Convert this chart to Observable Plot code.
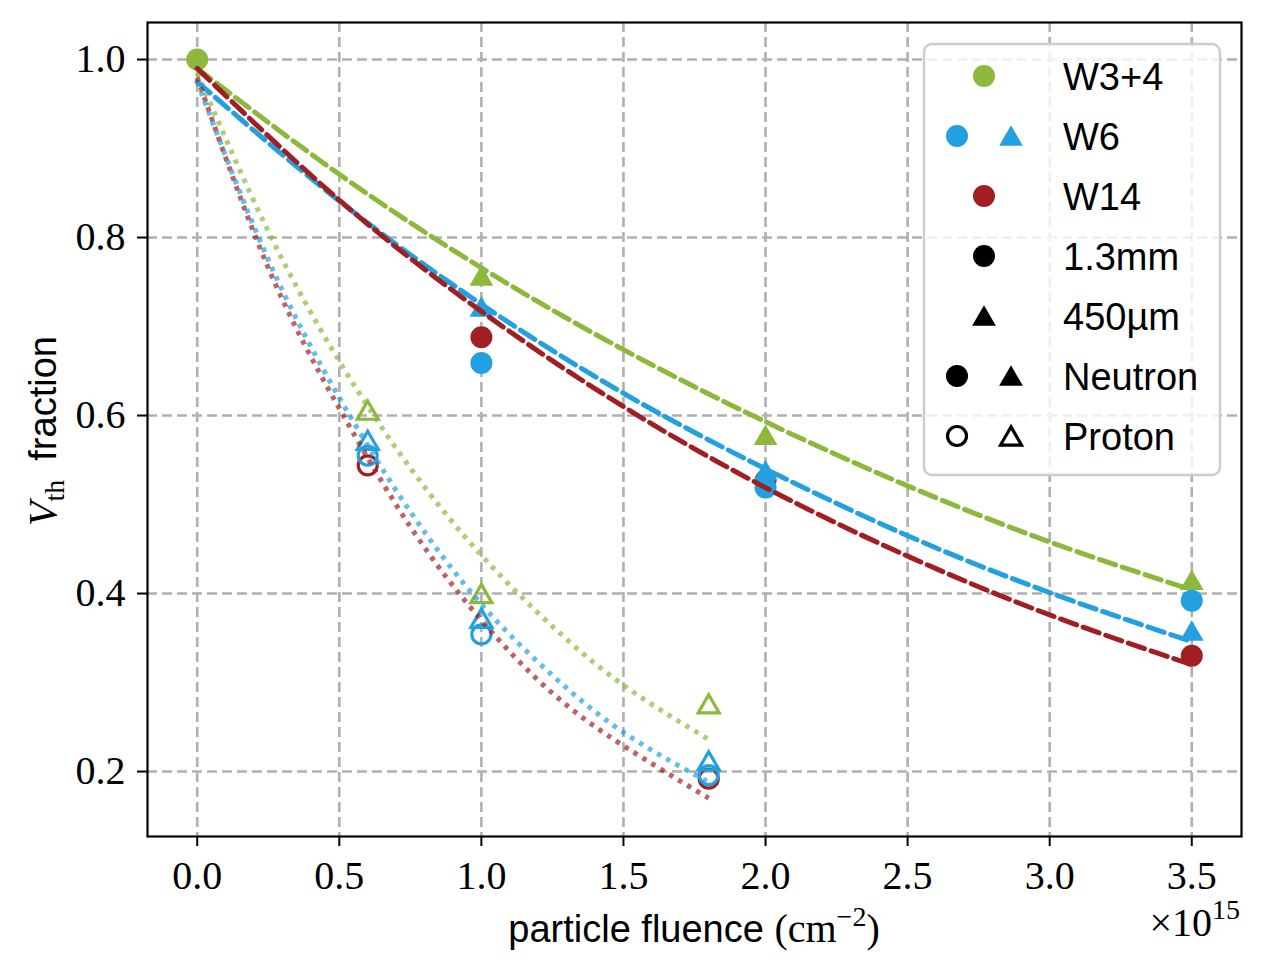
<!DOCTYPE html>
<html><head><meta charset="utf-8">
<script src="https://cdn.jsdelivr.net/npm/d3@7"></script>
<script src="https://cdn.jsdelivr.net/npm/@observablehq/plot@0.6"></script>
<style>
body{margin:0;background:#fff}
#chart{position:relative;width:1263px;height:977px}
svg [aria-label*="axis"] line, svg [aria-label*="axis"] path{stroke-width:2px}
</style>
</head><body><div id="chart"></div>
<script>
// ---- data ----
const xTicks = [0, 0.5, 1.0, 1.5, 2.0, 2.5, 3.0, 3.5];
const yTicks = [0.2, 0.4, 0.6, 0.8, 1.0];
const wafers = ["W3+4", "W6", "W14"];
const colors = ["#8cb93c", "#22a0e0", "#a11f23"];

// unirradiated reference point
const refFluence = [0];
const refValue = [1.0];

// neutron (filled markers)
const neutronFluence = [1.0, 2.0, 3.5];
const w34NeutronTri = [0.757, 0.578, 0.415];
const w6NeutronCirc = [0.659, 0.519, 0.392];
const w6NeutronTri = [0.722, 0.538, 0.358];
const w14NeutronCirc = [0.688, 0.527, 0.330];

// proton (open markers)
const protonFluence = [0.6, 1.0, 1.8];
const w34ProtonTri = [0.606, 0.400, 0.276];
const w6ProtonTri = [0.572, 0.372, 0.212];
const w6ProtonCirc = [0.555, 0.354, 0.196];
const w14ProtonFluence = [0.6, 1.8];
const w14ProtonCirc = [0.544, 0.192];

// fitted curves
const neutronFitX = [0, 0.5, 1.0, 1.5, 2.0, 2.5, 3.0, 3.5];
const w34NeutronFit = [0.990, 0.871, 0.766, 0.674, 0.593, 0.521, 0.458, 0.404];
const w6NeutronFit = [0.975, 0.841, 0.725, 0.625, 0.540, 0.465, 0.401, 0.346];
const w14NeutronFit = [0.990, 0.842, 0.717, 0.610, 0.519, 0.442, 0.376, 0.320];

const protonFitX = [0, 0.25, 0.5, 0.75, 1.0, 1.25, 1.5, 1.8];
const w34ProtonFit = [0.985, 0.807, 0.661, 0.541, 0.443, 0.363, 0.297, 0.236];
const w6ProtonFit = [0.975, 0.775, 0.620, 0.492, 0.388, 0.308, 0.244, 0.188];
const w14ProtonFit = [0.980, 0.766, 0.608, 0.475, 0.370, 0.288, 0.229, 0.170];

// ---- helpers ----
const pts = (xs, ys) => xs.map((x, i) => ({x, y: ys[i]}));
const circleFilled = (xs, ys, c) => Plot.dot(pts(xs, ys), {x: "x", y: "y", r: 11, fill: c, stroke: "none"});
const triFilled = (xs, ys, c) => Plot.dot(pts(xs, ys), {x: "x", y: "y", symbol: "triangle", r: 8.8, fill: c, stroke: "none", dy: 3});
const circleOpen = (xs, ys, c) => Plot.dot(pts(xs, ys), {x: "x", y: "y", r: 9.5, fill: "none", stroke: c, strokeWidth: 3.2});
const triOpen = (xs, ys, c) => Plot.dot(pts(xs, ys), {x: "x", y: "y", symbol: "triangle", r: 7.8, fill: "none", stroke: c, strokeWidth: 3.2, dy: 3});
const dashed = (xs, ys, c) => Plot.line(pts(xs, ys), {x: "x", y: "y", stroke: c, strokeWidth: 5, strokeDasharray: "17,7", curve: "natural"});
const dotted = (xs, ys, c) => Plot.line(pts(xs, ys), {x: "x", y: "y", stroke: c, strokeWidth: 5, strokeOpacity: 0.7, strokeDasharray: "4.5,6", curve: "natural", strokeLinecap: "butt"});

const grid = {stroke: "#b0b0b0", strokeWidth: 2.6, strokeDasharray: "10,5"};

const chart = Plot.plot({
  width: 1263,
  height: 977,
  marginLeft: 147,
  marginRight: 22,
  marginTop: 22,
  marginBottom: 141,
  style: {fontFamily: "'Liberation Serif', serif", fontSize: "40px", background: "white", color: "black", overflow: "visible"},
  x: {domain: [-0.175, 3.675], ticks: xTicks, tickFormat: d3.format(".1f"), tickSize: 10, tickPadding: 14, label: null},
  y: {domain: [0.127, 1.0416], ticks: yTicks, tickFormat: d3.format(".1f"), tickSize: 10, tickPadding: 12, label: null},
  marks: [
    Plot.ruleX(xTicks, grid),
    Plot.ruleY(yTicks, grid),
    // W3+4
    circleFilled(refFluence, refValue, colors[0]),
    triFilled(neutronFluence, w34NeutronTri, colors[0]),
    triOpen(protonFluence, w34ProtonTri, colors[0]),
    dashed(neutronFitX, w34NeutronFit, colors[0]),
    dotted(protonFitX, w34ProtonFit, colors[0]),
    // W14
    circleFilled(neutronFluence, w14NeutronCirc, colors[2]),
    circleOpen(w14ProtonFluence, w14ProtonCirc, colors[2]),
    // W6
    circleFilled(neutronFluence, w6NeutronCirc, colors[1]),
    triFilled(neutronFluence, w6NeutronTri, colors[1]),
    circleOpen(protonFluence, w6ProtonCirc, colors[1]),
    triOpen(protonFluence, w6ProtonTri, colors[1]),
    dashed(neutronFitX, w6NeutronFit, colors[1]),
    dotted(protonFitX, w6ProtonFit, colors[1]),
    dashed(neutronFitX, w14NeutronFit, colors[2]),
    dotted(protonFitX, w14ProtonFit, colors[2]),
    Plot.frame({stroke: "black", strokeWidth: 2.2})
  ]
});
document.getElementById("chart").appendChild(chart);

// ---- labels and legend ----
const svg = d3.select(chart);
const serif = "'Liberation Serif', serif";
const sans = "'Liberation Sans', sans-serif";

// y label
const yl = svg.append("text")
  .attr("transform", "translate(56,431) rotate(-90)")
  .attr("text-anchor", "middle")
  .attr("font-size", 38).attr("fill", "black");
yl.append("tspan").attr("font-family", serif).attr("font-style", "italic").attr("font-size", 40).text("V");
yl.append("tspan").attr("font-family", serif).attr("font-size", 28).attr("dy", 8).text("th");
yl.append("tspan").attr("font-family", sans).attr("dy", -8).text("\u2002fraction");

// x label
const xl = svg.append("text")
  .attr("x", 694).attr("y", 942)
  .attr("text-anchor", "middle").attr("fill", "black").attr("font-size", 38);
xl.append("tspan").attr("font-family", sans).text("particle fluence ");
xl.append("tspan").attr("font-family", serif).attr("font-size", 40).text("(cm");
xl.append("tspan").attr("font-family", serif).attr("font-size", 28).attr("dy", -16).text("\u22122");
xl.append("tspan").attr("font-family", serif).attr("font-size", 40).attr("dy", 16).text(")");

// offset text
const ox = svg.append("text")
  .attr("x", 1240).attr("y", 936)
  .attr("text-anchor", "end").attr("fill", "black").attr("font-family", serif).attr("font-size", 40);
ox.append("tspan").text("\u00d710");
ox.append("tspan").attr("font-size", 28).attr("dy", -17).text("15");

// legend
const lg = svg.append("g");
lg.append("rect").attr("x", 924).attr("y", 44).attr("width", 296).attr("height", 431)
  .attr("rx", 8).attr("fill", "white").attr("fill-opacity", 0.8)
  .attr("stroke", "#cccccc").attr("stroke-width", 2.4);
const legendRows = [
  {label: wafers[0], marks: [{x: 984, s: "circle", fill: colors[0]}]},
  {label: wafers[1], marks: [{x: 957, s: "circle", fill: colors[1]}, {x: 1011, s: "triangle", fill: colors[1]}]},
  {label: wafers[2], marks: [{x: 984, s: "circle", fill: colors[2]}]},
  {label: "1.3mm", marks: [{x: 984, s: "circle", fill: "black"}]},
  {label: "450\u00b5m", marks: [{x: 984, s: "triangle", fill: "black"}]},
  {label: "Neutron", marks: [{x: 957, s: "circle", fill: "black"}, {x: 1011, s: "triangle", fill: "black"}]},
  {label: "Proton", marks: [{x: 957, s: "circle", open: true}, {x: 1011, s: "triangle", open: true}]}
];
legendRows.forEach((row, i) => {
  const cy = 76 + i * 60;
  row.marks.forEach(m => {
    if (m.s === "circle") {
      lg.append("circle").attr("cx", m.x).attr("cy", cy).attr("r", m.open ? 9.5 : 11)
        .attr("fill", m.open ? "none" : m.fill)
        .attr("stroke", m.open ? "black" : "none").attr("stroke-width", 3.2);
    } else {
      const size = m.open ? Math.PI * 7.8 * 7.8 : Math.PI * 8.8 * 8.8;
      lg.append("path").attr("d", d3.symbol(d3.symbolTriangle, size)())
        .attr("transform", `translate(${m.x},${cy + 3})`)
        .attr("fill", m.open ? "none" : m.fill)
        .attr("stroke", m.open ? "black" : "none").attr("stroke-width", 3.2);
    }
  });
  lg.append("text").attr("x", 1063).attr("y", cy + 14)
    .attr("text-anchor", "start")
    .attr("font-family", sans).attr("font-size", 38).attr("fill", "black").text(row.label);
});
</script></body></html>
